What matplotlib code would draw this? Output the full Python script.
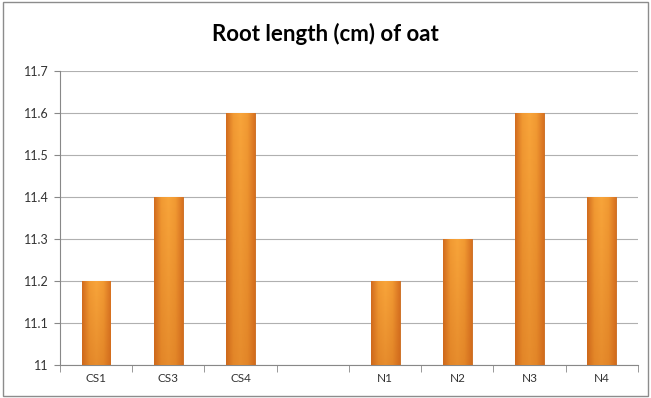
import numpy as np
import matplotlib.pyplot as plt
from matplotlib.colors import LinearSegmentedColormap

categories = ["CS1", "CS3", "CS4", "", "N1", "N2", "N3", "N4"]
root_length = [11.2, 11.4, 11.6, np.nan, 11.2, 11.3, 11.6, 11.4]
y_ticks = [11.0, 11.1, 11.2, 11.3, 11.4, 11.5, 11.6, 11.7]

plt.rcParams['font.family'] = ['Lato', 'DejaVu Sans']

fig = plt.figure(figsize=(6.51, 3.98), dpi=100)
ax = fig.add_axes([0.092, 0.083, 0.888, 0.739])

x = np.arange(len(categories))
bars = ax.bar(x, root_length, width=0.4, bottom=0, color="#F39A2E",
              edgecolor="#C8661A", linewidth=0.6, zorder=3)

# shaded fill inside each bar: lighter middle, darker edges and bottom
grad = LinearSegmentedColormap.from_list("oat", ["#D26C1F", "#F29A33", "#F8A53B", "#F29A33", "#D87222"])
img = np.linspace(0, 1, 64).reshape(1, -1)
shade = np.zeros((64, 1, 4))
shade[..., 0], shade[..., 1], shade[..., 2] = 0.78, 0.38, 0.08
shade[:, 0, 3] = np.linspace(0.0, 0.35, 64)
for b in bars:
    if np.isnan(b.get_height()):
        continue
    x0, w, h = b.get_x(), b.get_width(), b.get_height()
    im = ax.imshow(img, cmap=grad, aspect="auto", extent=[x0, x0 + w, 11.0, h],
                   zorder=3.5, interpolation="bicubic")
    im.set_clip_path(b)
    sh = ax.imshow(shade, aspect="auto", extent=[x0, x0 + w, 11.0, h], origin="upper",
                   zorder=3.6, interpolation="bicubic")
    sh.set_clip_path(b)

ax.set_xlim(-0.5, len(categories) - 0.5)
ax.set_ylim(11.0, 11.7)
ax.set_yticks(y_ticks)
ax.set_yticklabels([f"{v:g}" if v != 11.0 else "11" for v in y_ticks], fontsize=9, color="#333333")
ax.set_xticks(x)
ax.set_xticklabels(categories, fontsize=8.5, color="#333333")
ax.set_xticks(np.arange(len(categories) + 1) - 0.5, minor=True)
ax.tick_params(axis="x", which="major", length=0, pad=6)
ax.tick_params(axis="x", which="minor", length=5, color="#888888")
ax.tick_params(axis="y", length=4, color="#888888", pad=4)

ax.grid(axis="y", color="#B0B0B0", linewidth=0.8, zorder=0)
for s in ["top", "right"]:
    ax.spines[s].set_visible(False)
ax.spines["left"].set_color("#888888")
ax.spines["bottom"].set_color("#888888")

fig.text(0.5, 0.915, "Root length (cm) of oat", ha="center", va="center",
         fontsize=16, fontweight="bold", color="#000000")

# outer chart frame
fig.patches.append(plt.Rectangle((0.004, 0.004), 0.992, 0.992, transform=fig.transFigure,
                                 fill=False, edgecolor="#8C8C8C", linewidth=1))

fig.savefig("out.png", dpi=100)
